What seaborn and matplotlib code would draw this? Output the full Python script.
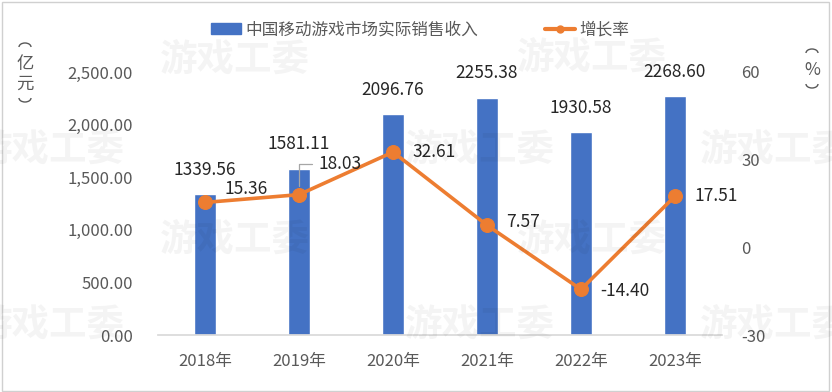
import numpy as np
import pandas as pd
import matplotlib
matplotlib.use("Agg")
import matplotlib.pyplot as plt
import seaborn as sns
from matplotlib.patches import Rectangle, Arc
from matplotlib.lines import Line2D
from matplotlib.ticker import FuncFormatter, MultipleLocator, FixedLocator

years = ["2018年", "2019年", "2020年", "2021年", "2022年", "2023年"]
revenue = [1339.56, 1581.11, 2096.76, 2255.38, 1930.58, 2268.60]
growth = [15.36, 18.03, 32.61, 7.57, -14.40, 17.51]
bar_name = "中国移动游戏市场实际销售收入"
line_name = "增长率"

sns.set_theme(style="white")
plt.rcParams["font.family"] = ["Noto Sans CJK SC", "DejaVu Sans"]

BLUE = "#4472C4"
ORANGE = "#ED7D31"
TXT = "#595959"
W, H = 832, 392

fig = plt.figure(figsize=(8.32, 3.92), dpi=100)
ax = fig.add_axes([158 / W, 1 - 335 / H, 564 / W, 263 / H])

df = pd.DataFrame({"year": years, "revenue": revenue, "growth": growth})
pos = np.arange(len(years))

sns.barplot(data=df, x="year", y="revenue", color=BLUE, width=0.24,
            saturation=1, ax=ax, zorder=2)
ax.set_ylim(0, 2500)
ax.set_xlim(-0.5, len(years) - 0.5)
ax.yaxis.set_major_locator(MultipleLocator(500))
ax.yaxis.set_major_formatter(FuncFormatter(lambda v, p: f"{v:,.2f}"))
ax.set_xlabel("")
ax.set_ylabel("")
for s in ["top", "left", "right"]:
    ax.spines[s].set_visible(False)
ax.spines["bottom"].set_color("#d9d9d9")
ax.tick_params(axis="y", length=0, pad=18, labelsize=12, labelcolor=TXT)
ax.tick_params(axis="x", length=0, pad=13, labelsize=12, labelcolor=TXT)
ax.xaxis.set_minor_locator(FixedLocator(np.arange(-0.5, len(years), 1.0)))
ax.tick_params(axis="x", which="minor", length=5, color="#d9d9d9", direction="out")

for i, v in enumerate(revenue):
    ax.annotate(f"{v:.2f}", (pos[i], v), xytext=(0, 11), textcoords="offset points",
                ha="center", va="bottom", fontsize=12.5, color="#262626")

ax2 = ax.twinx()
sns.lineplot(x=pos, y=growth, ax=ax2, color=ORANGE, linewidth=2.6,
             marker="o", markersize=10, markeredgecolor=ORANGE, zorder=3)
ax2.set_ylim(-30, 60)
ax2.yaxis.set_major_locator(MultipleLocator(30))
ax2.yaxis.set_major_formatter(FuncFormatter(lambda v, p: f"{v:.0f}"))
for s in ["top", "left", "right", "bottom"]:
    ax2.spines[s].set_visible(False)
ax2.tick_params(axis="y", length=0, pad=14, labelsize=12, labelcolor=TXT)
ax2.set_ylabel("")

offsets = [(14, 10), (14, 22), (14, 0), (14, 2), (14, -1), (14, 0)]
for i, v in enumerate(growth):
    kw = {}
    if i == 1:
        kw["arrowprops"] = dict(arrowstyle="-", color="#a6a6a6", lw=0.9,
                                connectionstyle="angle,angleA=0,angleB=90,rad=0",
                                shrinkA=2, shrinkB=6)
    ax2.annotate(f"{v:.2f}", (pos[i], v), xytext=offsets[i], textcoords="offset points",
                 ha="left", va="center", fontsize=12.5, color="#262626", zorder=5, **kw)

# axis unit labels (vertical text with arc-shaped brackets)
def unit_label(xc, ytop, chars):
    fig.patches.append(Arc((xc / W, 1 - (ytop + 3) / H), 12 / W, 8 / H, theta1=0, theta2=180,
                           transform=fig.transFigure, color=TXT, lw=1.0))
    y = ytop + 20
    for ch in chars:
        fig.text(xc / W, 1 - y / H, ch, ha="center", va="center", fontsize=12.5, color=TXT)
        y += 20
    fig.patches.append(Arc((xc / W, 1 - (y - 6) / H), 12 / W, 8 / H, theta1=180, theta2=360,
                           transform=fig.transFigure, color=TXT, lw=1.0))

unit_label(25, 44, ["亿", "元"])
unit_label(812, 50, ["%"])

# legend
handles = [Rectangle((0, 0), 1, 1, color=BLUE),
           Line2D([0], [0], color=ORANGE, lw=3, marker="o", markersize=5)]
fig.legend(handles, [bar_name, line_name], loc="center", bbox_to_anchor=(420 / W, 1 - 30 / H),
           ncol=2, frameon=False, fontsize=12, labelcolor=TXT, handlelength=1.8,
           columnspacing=4.0, handletextpad=0.25, handleheight=0.6)

# faint watermarks
for (wx, wy) in [(235, 60), (592, 58), (50, 150), (480, 150), (775, 150),
                 (235, 240), (592, 240), (50, 325), (480, 325), (775, 325)]:
    fig.text(wx / W, 1 - wy / H, "游戏工委", ha="center", va="center",
             fontsize=27, fontweight="bold", color="#000000", alpha=0.045, zorder=10)

fig.patches.append(Rectangle((0.002, 0.003), 0.994, 0.992, transform=fig.transFigure,
                             fill=False, edgecolor="#d0d0d0", linewidth=1))

fig.savefig("out.png", dpi=100)
